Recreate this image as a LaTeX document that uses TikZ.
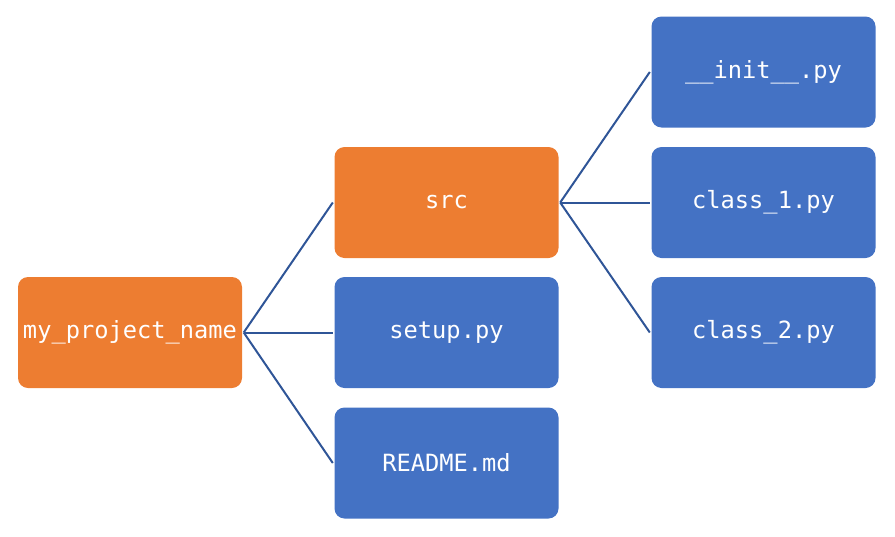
\documentclass[tikz,border=0pt]{standalone}
\usepackage{fontspec}
\setmonofont{DejaVu Sans Mono}
\definecolor{orng}{HTML}{ED7D31}
\definecolor{blu}{HTML}{4472C4}
\definecolor{lin}{HTML}{2F5597}
\begin{document}
\begin{tikzpicture}[x=1pt,y=-1pt,
  box/.style={rounded corners=10pt, minimum width=224pt, minimum height=111pt, inner sep=0pt, text=white, font=\fontsize{23.7}{28}\selectfont\ttfamily, anchor=center},
  obox/.style={box, fill=orng},
  bbox/.style={box, fill=blu},
  conn/.style={draw=lin, line width=2pt}]
\useasboundingbox (0,0) rectangle (895,536);
\node[obox] (root) at (130,332.5) {my\_project\_name};
\node[obox] (src) at (446.5,202.5) {src};
\node[bbox] (setup) at (446.5,332.5) {setup.py};
\node[bbox] (readme) at (446.5,463) {README.md};
\node[bbox] (init) at (763.5,72) {\_\_init\_\_.py};
\node[bbox] (c1) at (763.5,202.5) {class\_1.py};
\node[bbox] (c2) at (763.5,332.5) {class\_2.py};
\coordinate (r0) at ([xshift=1.5pt]root.east);
\coordinate (s0) at ([xshift=1.5pt]src.east);
\draw[conn] (r0) -- ([xshift=-1.5pt]src.west);
\draw[conn] (r0) -- ([xshift=-1.5pt]setup.west);
\draw[conn] (r0) -- ([xshift=-1.5pt]readme.west);
\draw[conn] (s0) -- ([xshift=-1.5pt]init.west);
\draw[conn] (s0) -- ([xshift=-1.5pt]c1.west);
\draw[conn] (s0) -- ([xshift=-1.5pt]c2.west);
\end{tikzpicture}
\end{document}
